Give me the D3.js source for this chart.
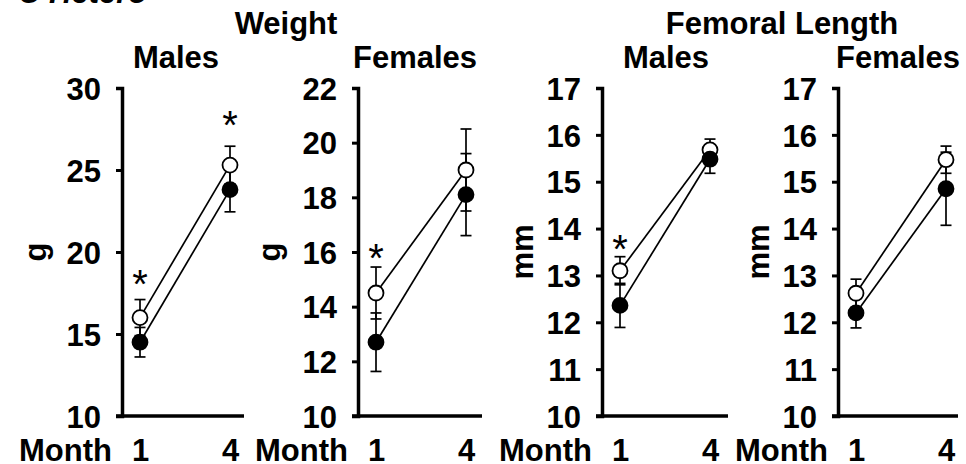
<!DOCTYPE html>
<html>
<head>
<meta charset="utf-8">
<script src="https://cdn.jsdelivr.net/npm/d3@7"></script>
<style>
  html, body { margin: 0; padding: 0; background: #fff; }
  svg { display: block; }
  text { font-family: "Liberation Sans", Arial, Helvetica, sans-serif; fill: #000; }
</style>
</head>
<body>
<svg id="chart" width="966" height="464"></svg>
<script>
// ---------------- data ----------------
const months = [1, 4];
const groupTitles = ["Weight", "Femoral Length"];
const panelTitles = ["Males", "Females", "Males", "Females"];
const yUnits = ["g", "g", "mm", "mm"];
const yDomains = [[10, 30], [10, 22], [10, 17], [10, 17]];
const yTicks = [
  [10, 15, 20, 25, 30],
  [10, 12, 14, 16, 18, 20, 22],
  [10, 11, 12, 13, 14, 15, 16, 17],
  [10, 11, 12, 13, 14, 15, 16, 17]
];
// open-circle series (mean at month 1, month 4) and error bars
const openMeans = [[16.0, 25.3], [14.5, 19.0], [13.1, 15.68], [12.62, 15.47]];
const openErr   = [[1.1, 1.15], [0.95, 1.5], [0.3, 0.23], [0.3, 0.29]];
// filled-circle series
const filledMeans = [[14.5, 23.8], [12.7, 18.1], [12.36, 15.48], [12.2, 14.85]];
const filledErr   = [[0.9, 1.35], [1.07, 1.5], [0.47, 0.3], [0.32, 0.78]];
// significance markers (value at which "*" is placed, null = none)
const asterisks = [[18.6, 28.3], [16.1, null], [13.75, null], [null, null]];
const partialLabel = "C Hetero";

// ---------------- layout ----------------
const axisX   = [122, 358, 602, 838];
const axisEnd = [244, 482, 728, 958];
const unitX   = [46, 280, 533, 769];
const titleX  = [176, 415, 666, 898];
const groupX  = [286, 782];
const plotTop = 88, plotBottom = 416;
const FS = 31;
const AST = 40;

const svg = d3.select("#chart");

svg.append("text").attr("x", 18).attr("y", 3)
  .attr("font-size", FS).attr("font-weight", "bold").attr("font-style", "italic")
  .text(partialLabel);

groupTitles.forEach((t, i) => {
  svg.append("text").attr("x", groupX[i]).attr("y", 34)
    .attr("text-anchor", "middle").attr("font-size", FS).attr("font-weight", "bold").text(t);
});

panelTitles.forEach((t, p) => {
  const ax = axisX[p];
  const y = d3.scaleLinear().domain(yDomains[p]).range([plotBottom, plotTop]);
  const x = d3.scaleLinear().domain([1, 4]).range([ax + 18, ax + 108]);
  const g = svg.append("g");

  // panel title
  g.append("text").attr("x", titleX[p]).attr("y", 68)
    .attr("text-anchor", "middle").attr("font-size", FS).attr("font-weight", "bold").text(t);

  // x baseline
  g.append("line").attr("x1", ax - 6).attr("x2", axisEnd[p])
    .attr("y1", y(yDomains[p][0])).attr("y2", y(yDomains[p][0]))
    .attr("stroke", "#000").attr("stroke-width", 3.5);

  // y axis
  const yAxis = d3.axisLeft(y).tickValues(yTicks[p]).tickSize(6).tickPadding(15)
    .tickFormat(d3.format("d"));
  const ya = g.append("g").attr("transform", `translate(${ax},0)`).call(yAxis);
  ya.select(".domain").attr("stroke-width", 3.5);
  ya.selectAll(".tick line").attr("stroke-width", 3);
  ya.selectAll(".tick text").attr("font-size", FS).attr("font-weight", "bold")
    .attr("font-family", '"Liberation Sans", Arial, sans-serif').attr("dy", "0.36em");

  // x axis labels
  const xAxis = d3.axisBottom(x).tickValues(months).tickSize(0).tickPadding(23)
    .tickFormat(d3.format("d"));
  const xa = g.append("g").attr("transform", `translate(0,${plotBottom})`).call(xAxis);
  xa.select(".domain").remove();
  xa.selectAll(".tick text").attr("font-size", FS).attr("font-weight", "bold")
    .attr("font-family", '"Liberation Sans", Arial, sans-serif');

  g.append("text").attr("x", ax - 10).attr("y", 461)
    .attr("text-anchor", "end").attr("font-size", FS).attr("font-weight", "bold").text("Month");

  // y unit label
  g.append("text").attr("transform", `translate(${unitX[p]},${(plotTop + plotBottom) / 2}) rotate(-90)`)
    .attr("text-anchor", "middle").attr("font-size", FS).attr("font-weight", "bold").text(yUnits[p]);

  const series = [
    { means: openMeans[p], err: openErr[p], fill: "#fff" },
    { means: filledMeans[p], err: filledErr[p], fill: "#000" }
  ];

  // error bars
  series.forEach(s => {
    months.forEach((m, i) => {
      const cx = x(m), hi = y(s.means[i] + s.err[i]), lo = y(s.means[i] - s.err[i]);
      g.append("line").attr("x1", cx).attr("x2", cx).attr("y1", hi).attr("y2", lo)
        .attr("stroke", "#000").attr("stroke-width", 1.7);
      [hi, lo].forEach(yy => g.append("line").attr("x1", cx - 5.5).attr("x2", cx + 5.5)
        .attr("y1", yy).attr("y2", yy).attr("stroke", "#000").attr("stroke-width", 1.7));
    });
  });

  // connecting lines
  const line = d3.line().x((d, i) => x(months[i])).y(d => y(d));
  series.forEach(s => {
    g.append("path").attr("d", line(s.means)).attr("fill", "none")
      .attr("stroke", "#000").attr("stroke-width", 1.7);
  });

  // markers
  series.forEach(s => {
    g.selectAll(null).data(s.means).enter().append("circle")
      .attr("cx", (d, i) => x(months[i])).attr("cy", d => y(d)).attr("r", 7.5)
      .attr("fill", s.fill).attr("stroke", "#000").attr("stroke-width", 1.8);
  });

  // asterisks
  asterisks[p].forEach((v, i) => {
    if (v == null) return;
    g.append("text").attr("x", x(months[i])).attr("y", y(v) + 0.58 * AST)
      .attr("text-anchor", "middle").attr("font-size", AST).attr("font-weight", "normal").text("*");
  });
});
</script>
</body>
</html>
